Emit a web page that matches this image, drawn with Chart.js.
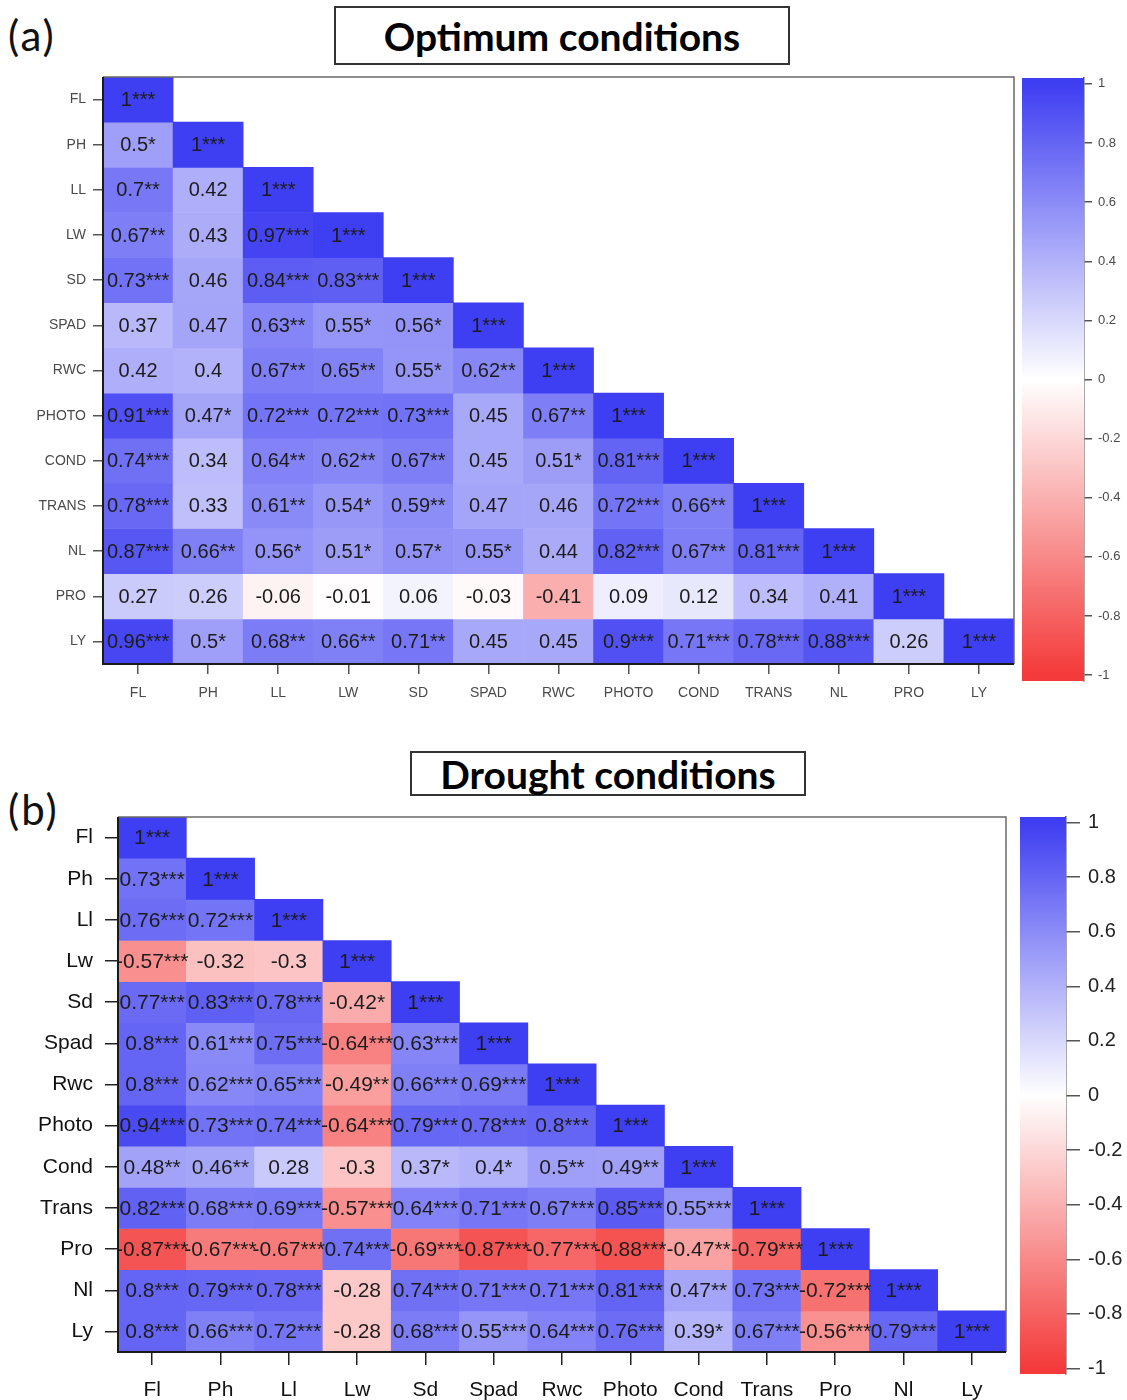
<!DOCTYPE html>
<html>
<head>
<meta charset="utf-8">
<title>Correlation heatmaps</title>
<script src="https://cdn.jsdelivr.net/npm/chart.js@4.4.1/dist/chart.umd.min.js"></script>
<style>
  html, body { margin: 0; padding: 0; background: #fff; }
  body { width: 1127px; height: 1400px; position: relative; overflow: hidden; }
  canvas { position: absolute; }
  .panel-tag { position: absolute; font-family: Lato, 'Open Sans', sans-serif; font-size: 42px; letter-spacing: 2px; line-height: 1; color: #111; }
  .title-box {
    position: absolute; box-sizing: border-box; border: 2px solid #333;
    display: flex; align-items: center; justify-content: center;
    font-family: Lato, 'Open Sans', sans-serif; font-weight: bold; color: #000;
  }
</style>
</head>
<body>
<div class="panel-tag" style="left:8px; top:14px;">(a)</div>
<div class="title-box" style="left:334px; top:6px; width:456px; height:59px; font-size:39px;">Optimum conditions</div>
<canvas id="heat-a" width="1016" height="650" style="left:0; top:70px;"></canvas>
<canvas id="bar-a" width="111" height="620" style="left:1016px; top:70px;"></canvas>

<div class="panel-tag" style="left:8px; top:788px;">(b)</div>
<div class="title-box" style="left:410px; top:751px; width:396px; height:45px; font-size:39px;">Drought conditions</div>
<canvas id="heat-b" width="1010" height="595" style="left:0; top:805px;"></canvas>
<canvas id="bar-b" width="115" height="595" style="left:1012px; top:805px;"></canvas>

<script>
// Variablen in Zeilen-/Spaltenreihenfolge
const optimumVars = ['FL', 'PH', 'LL', 'LW', 'SD', 'SPAD', 'RWC', 'PHOTO', 'COND', 'TRANS', 'NL', 'PRO', 'LY'];
const droughtVars = ['Fl', 'Ph', 'Ll', 'Lw', 'Sd', 'Spad', 'Rwc', 'Photo', 'Cond', 'Trans', 'Pro', 'Nl', 'Ly'];

// untere Dreiecksmatrix: Korrelation + Signifikanzsterne
const optimumCells = [
  ['1***'],
  ['0.5*', '1***'],
  ['0.7**', '0.42', '1***'],
  ['0.67**', '0.43', '0.97***', '1***'],
  ['0.73***', '0.46', '0.84***', '0.83***', '1***'],
  ['0.37', '0.47', '0.63**', '0.55*', '0.56*', '1***'],
  ['0.42', '0.4', '0.67**', '0.65**', '0.55*', '0.62**', '1***'],
  ['0.91***', '0.47*', '0.72***', '0.72***', '0.73***', '0.45', '0.67**', '1***'],
  ['0.74***', '0.34', '0.64**', '0.62**', '0.67**', '0.45', '0.51*', '0.81***', '1***'],
  ['0.78***', '0.33', '0.61**', '0.54*', '0.59**', '0.47', '0.46', '0.72***', '0.66**', '1***'],
  ['0.87***', '0.66**', '0.56*', '0.51*', '0.57*', '0.55*', '0.44', '0.82***', '0.67**', '0.81***', '1***'],
  ['0.27', '0.26', '-0.06', '-0.01', '0.06', '-0.03', '-0.41', '0.09', '0.12', '0.34', '0.41', '1***'],
  ['0.96***', '0.5*', '0.68**', '0.66**', '0.71**', '0.45', '0.45', '0.9***', '0.71***', '0.78***', '0.88***', '0.26', '1***'],
];

const droughtCells = [
  ['1***'],
  ['0.73***', '1***'],
  ['0.76***', '0.72***', '1***'],
  ['-0.57***', '-0.32', '-0.3', '1***'],
  ['0.77***', '0.83***', '0.78***', '-0.42*', '1***'],
  ['0.8***', '0.61***', '0.75***', '-0.64***', '0.63***', '1***'],
  ['0.8***', '0.62***', '0.65***', '-0.49**', '0.66***', '0.69***', '1***'],
  ['0.94***', '0.73***', '0.74***', '-0.64***', '0.79***', '0.78***', '0.8***', '1***'],
  ['0.48**', '0.46**', '0.28', '-0.3', '0.37*', '0.4*', '0.5**', '0.49**', '1***'],
  ['0.82***', '0.68***', '0.69***', '-0.57***', '0.64***', '0.71***', '0.67***', '0.85***', '0.55***', '1***'],
  ['-0.87***', '-0.67***', '-0.67***', '0.74***', '-0.69***', '-0.87***', '-0.77***', '-0.88***', '-0.47**', '-0.79***', '1***'],
  ['0.8***', '0.79***', '0.78***', '-0.28', '0.74***', '0.71***', '0.71***', '0.81***', '0.47**', '0.73***', '-0.72***', '1***'],
  ['0.8***', '0.66***', '0.72***', '-0.28', '0.68***', '0.55***', '0.64***', '0.76***', '0.39*', '0.67***', '-0.56***', '0.79***', '1***'],
];

const colorTicks = [1, 0.8, 0.6, 0.4, 0.2, 0, -0.2, -0.4, -0.6, -0.8, -1];
const colorRange = [-1.02, 1.02];

const blueEnd = [62, 62, 242];
const redEnd = [244, 58, 58];

function corrColor(r) {
  const end = r >= 0 ? blueEnd : redEnd;
  const t = Math.min(Math.abs(r), 1);
  const mix = (c) => Math.round(255 + (c - 255) * t);
  return `rgb(${mix(end[0])},${mix(end[1])},${mix(end[2])})`;
}

// Achsen sollen keinen Zusatzrand fuer Beschriftungen reservieren
function noLabelPadding(scale) {
  scale.paddingTop = 0;
  scale.paddingBottom = 0;
  scale.paddingLeft = 0;
  scale.paddingRight = 0;
}

const cellTextPlugin = {
  id: 'cellText',
  afterDatasetsDraw(chart, args, opts) {
    const { ctx } = chart;
    ctx.save();
    ctx.font = opts.font;
    ctx.fillStyle = opts.color;
    ctx.textAlign = 'center';
    ctx.textBaseline = 'middle';
    chart.data.datasets.forEach((ds, i) => {
      chart.getDatasetMeta(i).data.forEach((bar, j) => {
        const text = ds.cellText[j];
        if (!text) return;
        ctx.fillText(text, bar.x, (bar.y + bar.base) / 2 + 1);
      });
    });
    ctx.restore();
  },
};

// R-Stil Rahmen: links/unten kräftig, oben/rechts dünn grau
const framePlugin = {
  id: 'frame',
  afterDatasetsDraw(chart, args, opts) {
    const { ctx, chartArea: a } = chart;
    ctx.save();
    ctx.strokeStyle = opts.boxColor;
    ctx.lineWidth = opts.boxWidth;
    ctx.beginPath();
    ctx.moveTo(a.left, a.top);
    ctx.lineTo(a.right, a.top);
    ctx.lineTo(a.right, a.bottom);
    ctx.stroke();
    ctx.strokeStyle = opts.axisColor;
    ctx.lineWidth = opts.axisWidth;
    ctx.beginPath();
    ctx.moveTo(a.left, a.top);
    ctx.lineTo(a.left, a.bottom);
    ctx.lineTo(a.right, a.bottom);
    ctx.stroke();
    ctx.restore();
  },
};

function buildHeatmap(canvasId, vars, cells, style) {
  const datasets = vars.map((name, i) => ({
    label: name,
    data: vars.map((_, j) => (j < cells[i].length ? [i, i + 1] : null)),
    backgroundColor: vars.map((_, j) => (j < cells[i].length ? corrColor(parseFloat(cells[i][j])) : 'rgba(0,0,0,0)')),
    cellText: cells[i],
    grouped: false,
    barPercentage: 1,
    categoryPercentage: 1,
    borderWidth: 0,
  }));

  return new Chart(document.getElementById(canvasId), {
    type: 'bar',
    data: { labels: vars, datasets },
    plugins: [cellTextPlugin, framePlugin],
    options: {
      responsive: false,
      maintainAspectRatio: false,
      devicePixelRatio: 1,
      animation: false,
      events: [],
      layout: { padding: style.padding },
      plugins: {
        legend: { display: false },
        tooltip: { enabled: false },
        cellText: { font: style.cellFont, color: '#1c1c1c' },
        frame: { boxColor: '#6a6a6a', boxWidth: 1.5, axisColor: '#1a1a1a', axisWidth: 2 },
      },
      scales: {
        x: {
          type: 'category',
          offset: true,
          border: { display: false },
          grid: { offset: false, drawOnChartArea: false, tickLength: style.tickLength, color: style.tickColor, lineWidth: 1.5 },
          ticks: { font: style.labelFont, color: style.labelColor, padding: style.xPadding, autoSkip: false, maxRotation: 0 },
          afterFit: (scale) => { scale.height = style.xHeight; noLabelPadding(scale); },
        },
        y: {
          type: 'linear',
          min: 0,
          max: vars.length,
          reverse: true,
          border: { display: false },
          grid: { drawOnChartArea: false, tickLength: style.tickLength, color: style.tickColor, lineWidth: 1.5 },
          ticks: {
            font: style.labelFont,
            color: style.labelColor,
            padding: style.yPadding,
            autoSkip: false,
            callback: (value, index) => vars[index],
          },
          afterBuildTicks: (axis) => { axis.ticks = vars.map((_, i) => ({ value: i + 0.5 })); },
          afterFit: (scale) => { scale.width = style.yWidth; noLabelPadding(scale); },
        },
      },
    },
  });
}

function buildColorBar(canvasId, style) {
  return new Chart(document.getElementById(canvasId), {
    type: 'bar',
    data: {
      labels: [''],
      datasets: [{
        data: [colorRange],
        barPercentage: 1,
        categoryPercentage: 1,
        borderWidth: 0,
        backgroundColor: (context) => {
          const { chart } = context;
          const y = chart.scales.y;
          if (!chart.chartArea || !y) return '#fff';
          const g = chart.ctx.createLinearGradient(0, y.getPixelForValue(1), 0, y.getPixelForValue(-1));
          g.addColorStop(0, corrColor(1));
          g.addColorStop(0.47, corrColor(0.06));
          g.addColorStop(0.5, '#ffffff');
          g.addColorStop(0.53, corrColor(-0.06));
          g.addColorStop(1, corrColor(-1));
          return g;
        },
      }],
    },
    options: {
      responsive: false,
      maintainAspectRatio: false,
      devicePixelRatio: 1,
      animation: false,
      events: [],
      layout: { padding: style.padding },
      plugins: { legend: { display: false }, tooltip: { enabled: false } },
      scales: {
        x: { display: false },
        y: {
          type: 'linear',
          position: 'right',
          min: colorRange[0],
          max: colorRange[1],
          border: { display: true, color: '#555', width: 1.5 },
          grid: { drawOnChartArea: false, tickLength: style.tickLength, color: '#555', lineWidth: 1.5 },
          ticks: {
            font: style.labelFont,
            color: style.labelColor,
            padding: style.padTick,
            autoSkip: false,
            callback: (value) => String(Math.round(value * 10) / 10),
          },
          afterBuildTicks: (axis) => { axis.ticks = colorTicks.map((v) => ({ value: v })); },
          afterFit: (scale) => { scale.width = style.yWidth; noLabelPadding(scale); },
        },
      },
    },
  });
}

buildHeatmap('heat-a', optimumVars, optimumCells, {
  padding: { left: 0, top: 7, right: 2, bottom: 0 },
  xHeight: 56,
  yWidth: 103,
  tickLength: 10,
  tickColor: '#555',
  labelColor: '#4a4a4a',
  labelFont: { family: "'Liberation Sans', Arial, sans-serif", size: 14 },
  cellFont: "20px 'Liberation Sans', Arial, sans-serif",
  xPadding: 11,
  yPadding: 7,
});

buildColorBar('bar-a', {
  padding: { left: 6, top: 8, right: 0, bottom: 9 },
  yWidth: 43,
  tickLength: 8,
  padTick: 6,
  labelColor: '#4a4a4a',
  labelFont: { family: "'Liberation Sans', Arial, sans-serif", size: 13 },
});

buildHeatmap('heat-b', droughtVars, droughtCells, {
  padding: { left: 0, top: 12, right: 4, bottom: 0 },
  xHeight: 48,
  yWidth: 118,
  tickLength: 13,
  tickColor: '#222',
  labelColor: '#111',
  labelFont: { family: "'Liberation Sans', Arial, sans-serif", size: 21 },
  cellFont: "21px 'Liberation Sans', Arial, sans-serif",
  xPadding: 13,
  yPadding: 12,
});

buildColorBar('bar-b', {
  padding: { left: 8, top: 12, right: 0, bottom: 26 },
  yWidth: 61,
  tickLength: 14,
  padTick: 8,
  labelColor: '#222',
  labelFont: { family: "'Liberation Sans', Arial, sans-serif", size: 20 },
});
</script>
</body>
</html>
